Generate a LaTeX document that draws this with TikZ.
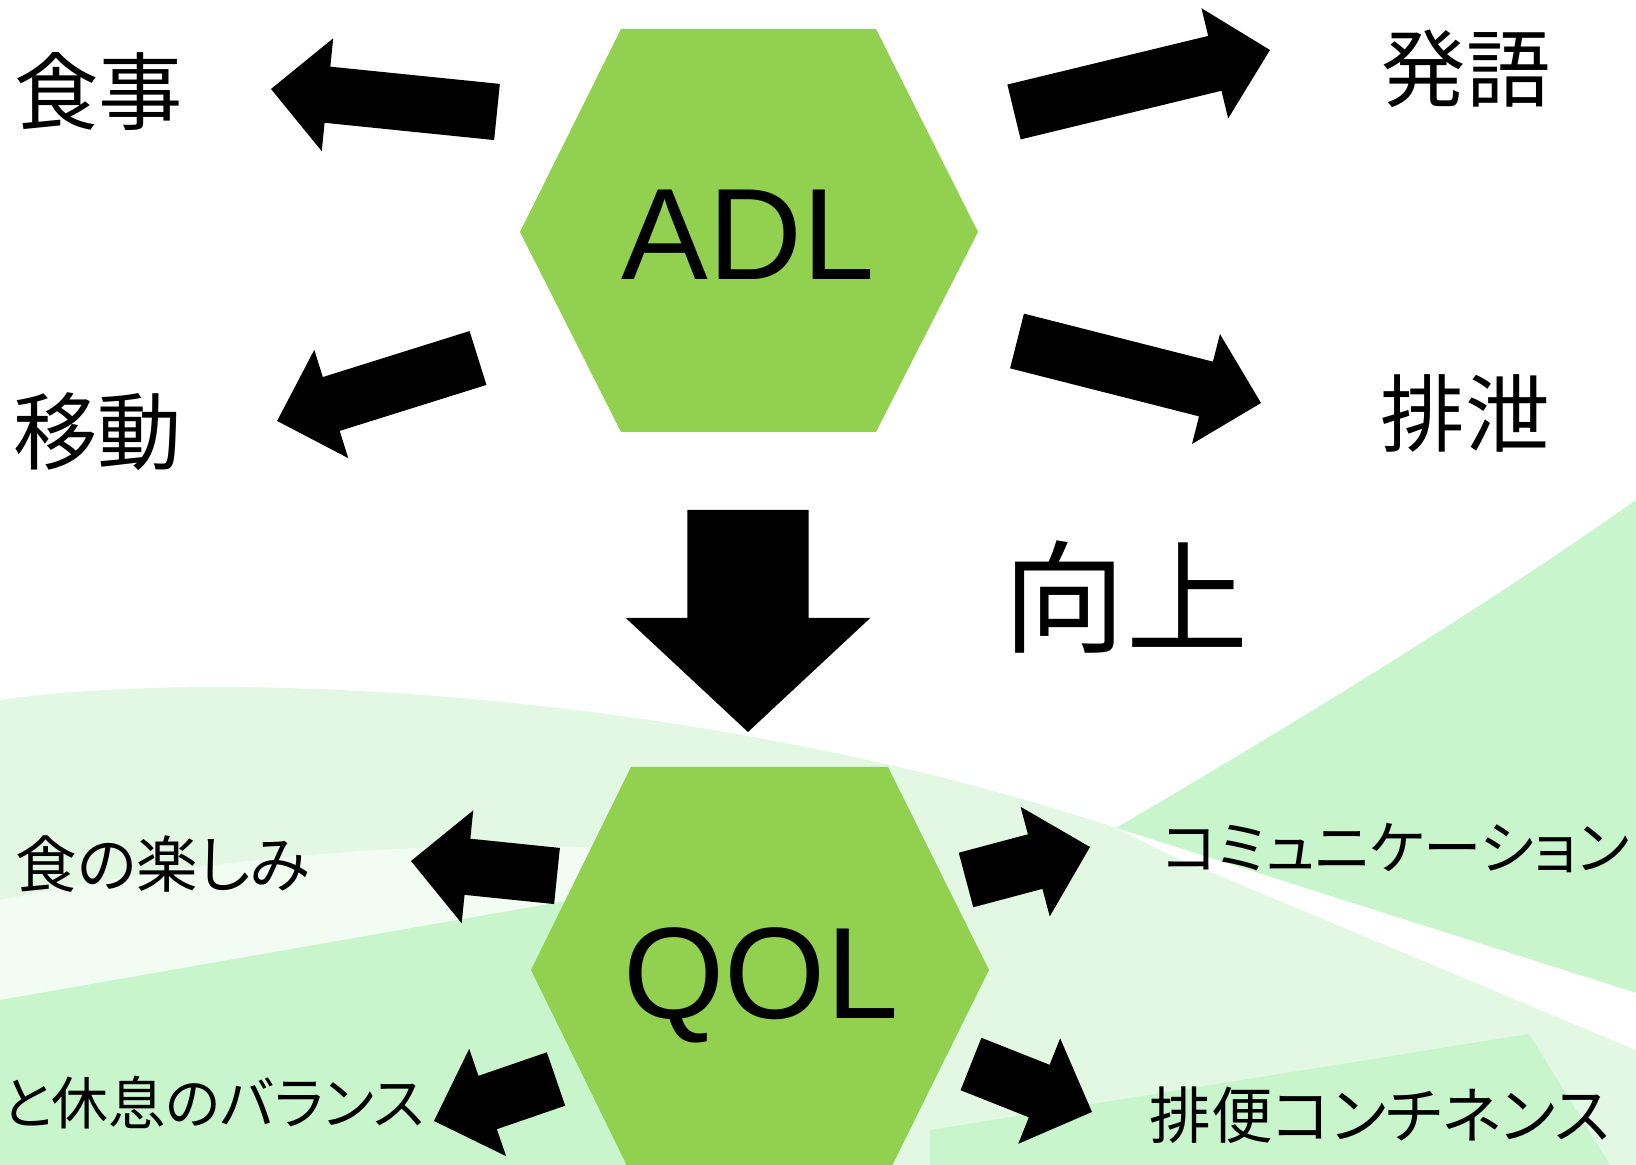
\documentclass[tikz,border=0pt]{standalone}
\usepackage{fontspec}
\setmainfont{Liberation Sans}
\newfontfamily\jpfont{Noto Sans CJK JP}
\newfontfamily\jpfontp[RawFeature=+palt]{Noto Sans CJK JP}
\usetikzlibrary{calc,shapes.arrows}

\definecolor{hexgreen}{RGB}{146,208,80}
\definecolor{bgpale}{RGB}{226,248,227}
\definecolor{bggreen}{RGB}{200,245,204}

\tikzset{
  blockarrow/.style={single arrow, fill=black, inner xsep=0pt, inner ysep=0.275cm,
    single arrow head extend=0.285cm, single arrow tip angle=90, minimum width=0pt, outer sep=0pt},
  downarrow/.style={inner ysep=0.6cm, single arrow head extend=0.615cm, single arrow tip angle=94},
  bigword/.style={font=\jpfont\fontsize{24pt}{28pt}\selectfont, inner sep=0pt},
  smallword/.style={font=\jpfontp\fontsize{17.5pt}{21pt}\selectfont, inner sep=0pt},
  hexword/.style={font=\fontsize{37pt}{44pt}\selectfont, inner sep=0pt},
}

% fat arrow from tail to tip
\newcommand{\fatarrow}[4][]{%
  \path let \p1=($(#4)-(#3)$), \n1={atan2(\y1,\x1)}, \n2={veclen(\x1,\y1)} in
    node[blockarrow, #1, anchor=tail, rotate=\n1, minimum height=\n2] (#2) at (#3) {};}

\begin{document}
\begin{tikzpicture}[x=0.01cm, y=-0.01cm]
  \useasboundingbox (0,0) rectangle (1636,1165);
  \clip (0,0) rectangle (1636,1165);

  % background waves
  \fill[white] (0,0) rectangle (1636,1165);
  \fill[bgpale] (0,700) .. controls (220,668) and (700,690) .. (1116,828) -- (1636,993) -- (1636,1165) -- (0,1165) -- cycle;
  \fill[white!55!bgpale] (0,900) .. controls (250,850) and (500,830) .. (760,860) -- (760,900) -- (0,1000) -- cycle;
  \fill[bggreen] (0,1000) -- (640,888) -- (760,880) -- (760,1165) -- (0,1165) -- cycle;
  \fill[bggreen] (1116,828) .. controls (1300,720) and (1480,610) .. (1636,500) -- (1636,993) -- cycle;
  \fill[white] (1116,828) -- (1636,993) -- (1636,1050) -- (1170,855) -- cycle;
  \fill[bggreen] (930,1130) -- (1529,1034) -- (1610,1165) -- (930,1165) -- cycle;

  % hexagons
  \fill[hexgreen] (621,29) -- (876,29) -- (978,232) -- (876,432) -- (621,432) -- (520,232) -- cycle;
  \fill[hexgreen] (631,767) -- (888,767) -- (989,970) -- (888,1174) -- (631,1174) -- (531,970) -- cycle;
  \node[hexword, anchor=base] (adl) at (748,280) {ADL};
  \node[hexword, anchor=base] (qol) at (761,1019) {QOL};

  % labels
  \node[bigword] (shokuji) at (99,92) {食事};
  \node[bigword] (idou) at (98,432) {移動};
  \node[bigword] (hatsugo) at (1466,69) {発語};
  \node[bigword] (haisetsu) at (1465,413) {排泄};
  \node[bigword, font=\jpfont\fontsize{34.7pt}{40pt}\selectfont] (koujou) at (1126,597) {向上};
  \node[smallword] (tanoshimi) at (163,864) {食の楽しみ};
  \node[smallword, font=\jpfontp\fontsize{16.6pt}{20pt}\selectfont] (comm) at (1396,848) {コミュニケーション};
  \node[smallword, font=\jpfontp\fontsize{16.2pt}{20pt}\selectfont, anchor=west] (balance) at (1,1103) {と休息のバランス};
  \node[smallword] (haiben) at (1380,1115) {排便コンチネンス};

  % arrows
  \coordinate (a1t) at (497,112);  \coordinate (a1h) at (271,89);
  \coordinate (a2t) at (478,358);  \coordinate (a2h) at (277,421);
  \coordinate (a3t) at (1014,112); \coordinate (a3h) at (1270,50);
  \coordinate (a4t) at (1017,341); \coordinate (a4h) at (1261,403);
  \coordinate (dt) at (748,510);   \coordinate (dh) at (748,732);
  \coordinate (b1t) at (557,876);  \coordinate (b1h) at (411,861);
  \coordinate (b2t) at (966,880);  \coordinate (b2h) at (1090,847);
  \coordinate (b3t) at (556,1079); \coordinate (b3h) at (434,1121);
  \coordinate (b4t) at (971,1064); \coordinate (b4h) at (1092,1112);

  \fatarrow{arr-shokuji}{a1t}{a1h}
  \fatarrow{arr-idou}{a2t}{a2h}
  \fatarrow{arr-hatsugo}{a3t}{a3h}
  \fatarrow{arr-haisetsu}{a4t}{a4h}
  \fatarrow[downarrow]{arr-down}{dt}{dh}
  \fatarrow{arr-tanoshimi}{b1t}{b1h}
  \fatarrow{arr-comm}{b2t}{b2h}
  \fatarrow{arr-balance}{b3t}{b3h}
  \fatarrow{arr-haiben}{b4t}{b4h}
\end{tikzpicture}
\end{document}
